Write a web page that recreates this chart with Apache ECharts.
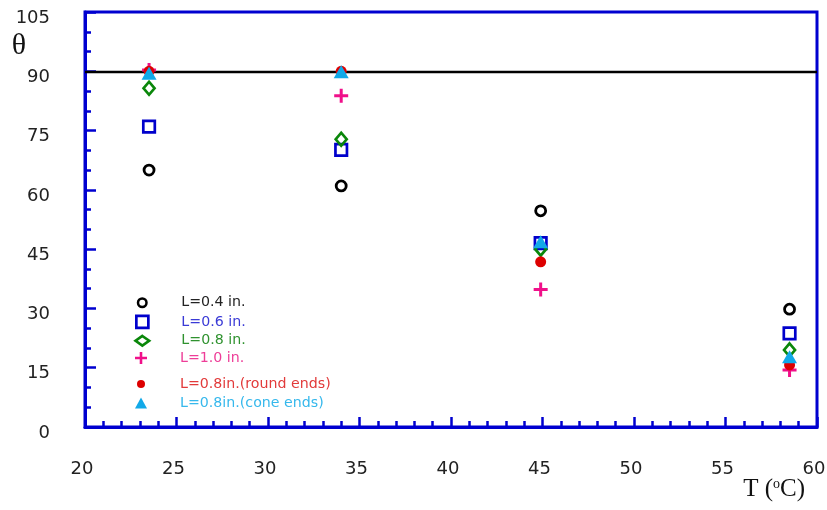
<!DOCTYPE html>
<html>
<head>
<meta charset="utf-8">
<script src="https://cdn.jsdelivr.net/npm/echarts@6/dist/echarts.min.js"></script>
<style>
  html, body { margin: 0; padding: 0; background: #fff; }
  #chart { width: 827px; height: 510px; }
</style>
</head>
<body>
<div id="chart"></div>
<script>
// Contact angle θ versus temperature for different rod lengths
const temperatures = [23.5, 34.0, 44.9, 58.5];
const theta04 = [65.0, 61.0, 54.7, 29.8];
const theta06 = [76.0, 70.1, 46.5, 23.7];
const theta08 = [85.7, 72.8, 45.0, 19.5];
const theta10 = [90.3, 83.8, 34.8, 14.4];
const theta08Round = [90.0, 90.0, 41.8, 15.7];
const theta08Cone = [89.5, 89.9, 46.9, 17.8];
const referenceAngle = 90;

const xTicks = { min: 20, max: 60, step: 5 };
const yTicks = { min: 0, max: 105, step: 15 };

const seriesNames = [
  'L=0.4 in.', 'L=0.6 in.', 'L=0.8 in.', 'L=1.0 in.',
  'L=0.8in.(round ends)', 'L=0.8in.(cone ends)'
];

const AXIS_BLUE = '#0000d0';
const PLUS = 'path://M5.5,0H8.5V5.5H14V8.5H8.5V14H5.5V8.5H0V5.5H5.5Z';

const pts = (vals) => temperatures.map((t, i) => [t, vals[i]]);

// marker styles per series, with legend icon sizes and label colours
const styles = [
  { vals: theta04, symbol: 'circle', size: 10, fill: 'rgba(0,0,0,0)', stroke: '#000000', bw: 2.8,
    lsize: [8.5, 8.5], lbw: 2.5, text: '#222222', iconY: 300, textY: 301.5 },
  { vals: theta06, symbol: 'rect', size: 11.5, fill: 'rgba(0,0,0,0)', stroke: '#0000cc', bw: 2.7,
    lsize: [12, 12], lbw: 2.7, text: '#3a3ad6', iconY: 320.5, textY: 320.5 },
  { vals: theta08, symbol: 'diamond', size: [11, 13], fill: 'rgba(0,0,0,0)', stroke: '#0a870a', bw: 2.7,
    lsize: [13.5, 9.5], lbw: 2.7, text: '#2f922f', iconY: 338.5, textY: 343 },
  { vals: theta10, symbol: PLUS, size: 14, fill: '#f0108a', stroke: null, bw: 0,
    lsize: [12, 12], lbw: 0, text: '#ee3d98', iconY: 357, textY: 360 },
  { vals: theta08Round, symbol: 'circle', size: 11, fill: '#dd0000', stroke: null, bw: 0,
    lsize: [8, 8], lbw: 0, text: '#e23a3a', iconY: 381, textY: 383 },
  { vals: theta08Cone, symbol: 'triangle', size: [15, 13], fill: '#12a9e8', stroke: null, bw: 0,
    lsize: [12, 11], lbw: 0, text: '#36b8ec', iconY: 401.5, textY: 403 }
];

const series = styles.map((s, i) => {
  const item = { color: s.fill, opacity: 1 };
  if (s.stroke) { item.borderColor = s.stroke; item.borderWidth = s.bw; }
  const obj = {
    name: seriesNames[i],
    type: 'scatter',
    data: pts(s.vals),
    symbol: s.symbol,
    symbolSize: s.size,
    itemStyle: item,
    z: 3 + i,
    silent: true
  };
  if (i === 0) {
    obj.markLine = {
      silent: true,
      symbol: 'none',
      label: { show: false },
      lineStyle: { color: '#000', width: 2.4, type: 'solid', opacity: 1 },
      data: [{ yAxis: referenceAngle }],
      z: 2
    };
  }
  return obj;
});

const legendMarkerX = 141;
const legendTextX = 180;
const legends = styles.map((s, i) => {
  const w = s.lsize[0], h = s.lsize[1];
  const padLeft = legendTextX - (legendMarkerX + w / 2 + 5);
  const padTop = Math.max(0, 2 * (s.textY - s.iconY));
  return {
    data: [seriesNames[i]],
    left: legendMarkerX - w / 2,
    top: s.iconY - h / 2,
    padding: 0,
    itemWidth: w,
    itemHeight: h,
    selectedMode: false,
    icon: s.symbol,
    itemStyle: {
      color: s.fill,
      borderColor: s.stroke || s.fill,
      borderWidth: s.lbw,
      opacity: 1
    },
    textStyle: {
      color: s.text,
      fontFamily: 'DejaVu Sans',
      fontSize: 14.2,
      padding: [padTop, 0, 0, padLeft]
    }
  };
});

const chart = echarts.init(document.getElementById('chart'), null, { renderer: 'canvas' });
chart.setOption({
  animation: false,
  backgroundColor: '#ffffff',
  grid: {
    left: 85, right: 10, top: 12, bottom: 83,
    containLabel: false,
    outerBoundsMode: 'none',
    show: true, borderColor: AXIS_BLUE, borderWidth: 3, backgroundColor: 'rgba(0,0,0,0)'
  },
  legend: legends,
  xAxis: {
    type: 'value',
    min: xTicks.min, max: xTicks.max, interval: xTicks.step,
    name: 'T ({s|o}C)',
    nameLocation: 'end',
    nameGap: -12,
    nameMoveOverlap: false,
    nameTextStyle: {
      fontFamily: 'Liberation Serif', fontSize: 25, color: '#111',
      align: 'right', verticalAlign: 'top', padding: [50, 0, 0, 0],
      rich: { s: { fontFamily: 'Liberation Serif', fontSize: 14, color: '#111', verticalAlign: 'top', padding: [0, 0, 9, 0] } }
    },
    axisLine: { show: true, onZero: false, lineStyle: { color: AXIS_BLUE, width: 3 } },
    axisTick: { show: true, inside: true, length: 10, lineStyle: { color: AXIS_BLUE, width: 2.5 } },
    minorTick: { show: true, splitNumber: 5, length: 6, lineStyle: { color: AXIS_BLUE, width: 2.5 } },
    axisLabel: {
      margin: 33, color: '#222', fontFamily: 'DejaVu Sans', fontSize: 18,
      padding: [0, 6, 0, 0]
    },
    splitLine: { show: false }
  },
  yAxis: {
    type: 'value',
    min: yTicks.min, max: yTicks.max, interval: yTicks.step,
    name: 'θ',
    nameLocation: 'end',
    nameGap: -34,
    nameMoveOverlap: false,
    nameTextStyle: {
      fontFamily: 'Liberation Serif', fontSize: 30, color: '#111',
      align: 'right', verticalAlign: 'middle', padding: [0, 59, 0, 0]
    },
    axisLine: { show: true, onZero: false, lineStyle: { color: AXIS_BLUE, width: 3 } },
    axisTick: { show: true, inside: true, length: 11, lineStyle: { color: AXIS_BLUE, width: 2.5 } },
    minorTick: { show: true, splitNumber: 3, length: 6, lineStyle: { color: AXIS_BLUE, width: 2.5 } },
    axisLabel: {
      margin: 35, color: '#222', fontFamily: 'DejaVu Sans', fontSize: 18,
      verticalAlign: 'top', lineHeight: 12
    },
    splitLine: { show: false }
  },
  series: series
});
</script>
</body>
</html>
